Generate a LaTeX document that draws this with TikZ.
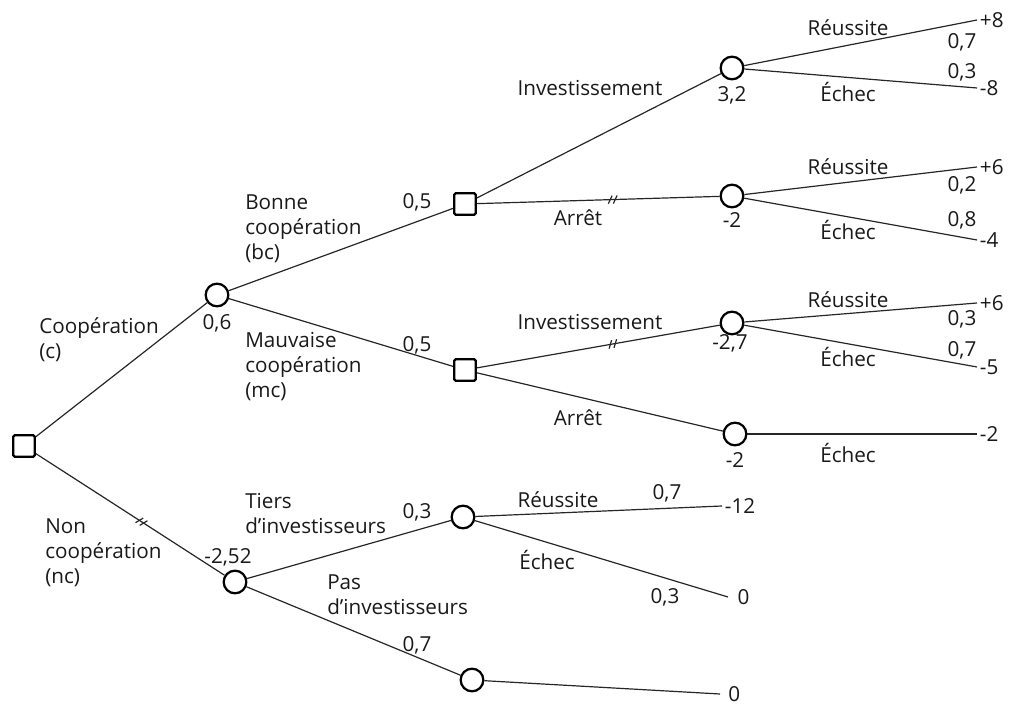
\documentclass[tikz,border=0pt]{standalone}
\usepackage{fontspec}
\setmainfont{Open Sans}
\usetikzlibrary{decorations.markings}
\begin{document}
\begin{tikzpicture}[x=0.75pt,y=-0.75pt,
  every node/.style={font=\fontsize{15.5pt}{18.75pt}\selectfont, inner sep=0pt, text=black!90},
  dec/.style={draw, line width=1.7pt, minimum size=16pt, inner sep=0pt, rounded corners=1pt},
  chance/.style={circle, draw, line width=1.7pt, minimum size=17pt, inner sep=0pt},
  edge/.style={line width=0.9pt, draw=black!85},
  hatch/.style={postaction={decorate, decoration={markings, mark=at position 0.56 with {\draw[line width=0.9pt] (-4.5,4)--(-0.5,-4) (0.5,4)--(4.5,-4);}}}},
  lbl/.style={align=left, anchor=west},
  leaf/.style={anchor=west, inner sep=2pt}]
\useasboundingbox (0,0) rectangle (1010,705);
% decision and chance nodes
\node[dec] (r) at (24,446) {};
\node[chance] (c) at (217,295) {};
\node[chance] (nc) at (235,582) {};
\node[dec] (bc) at (465,204) {};
\node[dec] (mc) at (465,370) {};
\node[chance] (i1) at (732,68) {};
\node[chance] (a1) at (732,196) {};
\node[chance] (i2) at (732,323) {};
\node[chance] (a2) at (735,434) {};
\node[chance] (t) at (463,517) {};
\node[chance] (p) at (472,680) {};
% leaves
\node[leaf] (v1) at (977,20) {+8};
\node[leaf] (v2) at (977,88) {-8};
\node[leaf] (v3) at (977,167) {+6};
\node[leaf] (v4) at (977,240) {-4};
\node[leaf] (v5) at (977,303) {+6};
\node[leaf] (v6) at (977,367) {-5};
\node[leaf] (v7) at (977,434) {-2};
\node[leaf] (v8) at (722,506) {-12};
\node[leaf, inner xsep=7pt] (v9) at (728,597) {0};
\node[leaf, inner xsep=6pt] (v10) at (720,694) {0};
% edges
\draw[edge] (r) -- (c);
\draw[edge,hatch] (r) -- (nc);
\draw[edge] (c) -- (bc);
\draw[edge] (c) -- (mc);
\draw[edge] (bc) -- (i1);
\draw[edge,hatch] (bc) -- (a1);
\draw[edge,hatch] (mc) -- (i2);
\draw[edge] (mc) -- (a2);
\draw[edge] (i1) -- (v1.west);
\draw[edge] (i1) -- (v2.west);
\draw[edge] (a1) -- (v3.west);
\draw[edge] (a1) -- (v4.west);
\draw[edge] (i2) -- (v5.west);
\draw[edge] (i2) -- (v6.west);
\draw[edge] (a2) -- (v7.west);
\draw[edge] (nc) -- (t);
\draw[edge] (nc) -- (p);
\draw[edge] (t) -- (v8.west);
\draw[edge] (t) -- (v9.west);
\draw[edge] (p) -- (v10.west);
% labels
\node[lbl] (lc) at (39,340) {Coopération\\(c)};
\node[lbl] (lnc) at (45,553) {Non\\coopération\\(nc)};
\node (p06) at (217,323) {0,6};
\node (p252) at (228,557) {-2,52};
\node[lbl] (lbc) at (245,229) {Bonne\\coopération\\(bc)};
\node (p05a) at (417,202) {0,5};
\node[lbl] (lmc) at (245,367) {Mauvaise\\coopération\\(mc)};
\node (p05b) at (417,345) {0,5};
\node (linv1) at (590,88) {Investissement};
\node (larr1) at (578,218) {Arrêt};
\node (v32) at (732,95) {3,2};
\node (vm2a) at (732,220) {-2};
\node (lr1) at (848,28) {Réussite};
\node (p07a) at (962,42) {0,7};
\node (p03a) at (962,72) {0,3};
\node (le1) at (848,92) {Échec};
\node (lr2) at (848,167) {Réussite};
\node (p02) at (962,185) {0,2};
\node (p08) at (962,220) {0,8};
\node (le2) at (848,230) {Échec};
\node (linv2) at (590,322) {Investissement};
\node (larr2) at (578,418) {Arrêt};
\node (vm27) at (730,343) {-2,7};
\node (vm2b) at (735,460) {-2};
\node (lr3) at (848,300) {Réussite};
\node (p03b) at (962,319) {0,3};
\node (p07b) at (962,350) {0,7};
\node (le3) at (848,357) {Échec};
\node (le4) at (848,453) {Échec};
\node[lbl] (lt) at (245,514) {Tiers\\d’investisseurs};
\node (p03c) at (417,512) {0,3};
\node[lbl] (lp) at (327,595) {Pas\\d’investisseurs};
\node (p07c) at (417,645) {0,7};
\node (lr4) at (558,500) {Réussite};
\node (p07d) at (667,493) {0,7};
\node (le5) at (547,560) {Échec};
\node (p03d) at (665,597) {0,3};
\end{tikzpicture}
\end{document}
